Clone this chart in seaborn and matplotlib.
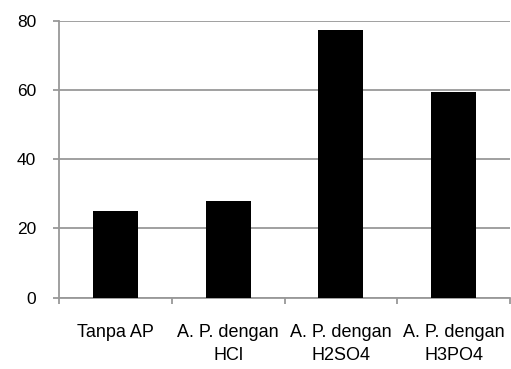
import numpy as np
import pandas as pd
import matplotlib
matplotlib.use("Agg")
import matplotlib.pyplot as plt
import seaborn as sns

# Data
categories = ["Tanpa AP", "A. P. dengan\nHCl", "A. P. dengan\nH2SO4", "A. P. dengan\nH3PO4"]
values = [25.0, 27.9, 77.4, 59.5]
y_ticks = [0, 20, 40, 60, 80]

sns.set_theme(style="white")
plt.rcParams['font.family'] = ['Liberation Sans', 'DejaVu Sans']

df = pd.DataFrame({"kategori": categories, "nilai": values})

fig = plt.figure(figsize=(5.11, 3.69), dpi=100)
ax = fig.add_axes([59 / 511, 1 - 297.5 / 369, 451 / 511, 276.5 / 369])

sns.barplot(data=df, x="kategori", y="nilai", color="black", width=0.4,
            saturation=1, linewidth=0, ax=ax, zorder=3)

grid_col = "#999999"
ax.set_ylim(0, 80)
ax.set_xlim(-0.5, len(categories) - 0.5)
ax.set_yticks(y_ticks)
ax.yaxis.grid(True, color=grid_col, linewidth=1.3, zorder=0)
ax.set_axisbelow(True)

for side in ["top", "right"]:
    ax.spines[side].set_visible(False)
for side in ["left", "bottom"]:
    ax.spines[side].set_color(grid_col)
    ax.spines[side].set_linewidth(1.3)

# tick marks between categories, labels at the centres
ax.set_xticks(np.arange(-0.5, len(categories)), minor=True)
ax.tick_params(axis="x", which="both", bottom=True)
ax.tick_params(axis="x", which="major", length=0, pad=19, labelsize=13, labelcolor="black")
ax.tick_params(axis="x", which="minor", length=4, width=1.3, color=grid_col, direction="out")
ax.tick_params(axis="y", left=True, length=4.5, width=1.3, color=grid_col, direction="out",
               labelsize=12.5, labelcolor="black", pad=12)
for lbl in ax.get_xticklabels():
    lbl.set_linespacing(1.45)
ax.set_xlabel("")
ax.set_ylabel("")

fig.savefig("out.png", dpi=100)
